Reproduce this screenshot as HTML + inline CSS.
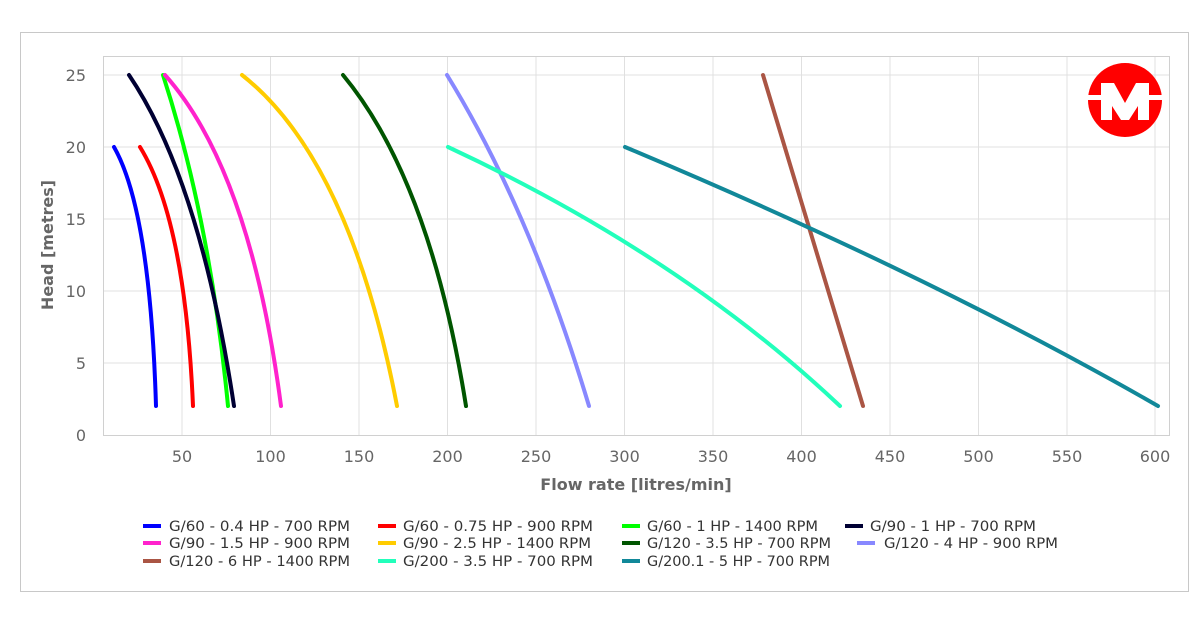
<!DOCTYPE html>
<html><head><style>
body{margin:0;background:#fff;}
svg text{font-family:"DejaVu Sans","Liberation Sans",sans-serif;}
</style></head><body>
<svg width="1197" height="618" xmlns="http://www.w3.org/2000/svg">
<rect x="20.5" y="32.5" width="1168" height="559" fill="#fff" stroke="#c8c8c8"/>
<g stroke="#e0e0e0" stroke-width="1">
<line x1="182" y1="56" x2="182" y2="435"/><line x1="270.5" y1="56" x2="270.5" y2="435"/>
<line x1="359" y1="56" x2="359" y2="435"/><line x1="447.5" y1="56" x2="447.5" y2="435"/>
<line x1="536" y1="56" x2="536" y2="435"/><line x1="624.5" y1="56" x2="624.5" y2="435"/>
<line x1="713" y1="56" x2="713" y2="435"/><line x1="801.5" y1="56" x2="801.5" y2="435"/>
<line x1="890" y1="56" x2="890" y2="435"/><line x1="978.5" y1="56" x2="978.5" y2="435"/>
<line x1="1067" y1="56" x2="1067" y2="435"/><line x1="1155" y1="56" x2="1155" y2="435"/>
<line x1="103" y1="75" x2="1169" y2="75"/><line x1="103" y1="147" x2="1169" y2="147"/>
<line x1="103" y1="219" x2="1169" y2="219"/><line x1="103" y1="291" x2="1169" y2="291"/>
<line x1="103" y1="363" x2="1169" y2="363"/>
</g>
<rect x="103.5" y="56.5" width="1066" height="379" fill="none" stroke="#d0d0d0"/>
<g fill="#666" font-size="16" text-anchor="end">
<text x="86" y="81">25</text><text x="86" y="153">20</text><text x="86" y="225">15</text>
<text x="86" y="297">10</text><text x="86" y="369">5</text><text x="86" y="441">0</text>
</g>
<g fill="#666" font-size="16" text-anchor="middle">
<text x="182" y="462">50</text><text x="270.5" y="462">100</text><text x="359" y="462">150</text>
<text x="447.5" y="462">200</text><text x="536" y="462">250</text><text x="624.5" y="462">300</text>
<text x="713" y="462">350</text><text x="801.5" y="462">400</text><text x="890" y="462">450</text>
<text x="978.5" y="462">500</text><text x="1067" y="462">550</text><text x="1155" y="462">600</text>
</g>
<text x="636" y="490" fill="#666" font-size="16" font-weight="bold" text-anchor="middle">Flow rate [litres/min]</text>
<text transform="translate(53,245) rotate(-90)" fill="#666" font-size="16" font-weight="bold" text-anchor="middle">Head [metres]</text>
<g fill="none" stroke-width="4" stroke-linecap="round">
<path d="M114 147 Q150 210 156 406" stroke="#0000ff"/>
<path d="M140 147 Q185 220 193 406" stroke="#ff0000"/>
<path d="M163 75 Q210 220 228 406" stroke="#00ff00"/>
<path d="M129 75 Q200 180 234 406" stroke="#000033"/>
<path d="M165 75 Q250 170 281 406" stroke="#ff22cc"/>
<path d="M242 75 Q350 160 397 406" stroke="#ffcc00"/>
<path d="M343 75 Q430 180 466 406" stroke="#005500"/>
<path d="M447 75 Q530 210 589 406" stroke="#8888ff"/>
<path d="M763 75 Q810 230 863 406" stroke="#aa5544"/>
<path d="M448 147 Q680 255 840 406" stroke="#22ffbb"/>
<path d="M625 147 Q930 275 1158 406" stroke="#118899"/>
</g>
<circle cx="1125" cy="100" r="37" fill="#ff0000"/>
<polygon points="1088,95 1101,95 1101,83 1114,83 1125,103 1136,83 1149,83 1149,95 1162,95 1162,100 1149,100 1149,120 1138,120 1138,106 1129,120 1121,120 1112,106 1112,120 1101,120 1101,100 1088,100" fill="#fff"/>
<g font-size="14" fill="#333">
<g stroke-width="4">
<line x1="143" y1="526" x2="161" y2="526" stroke="#0000ff"/><line x1="378" y1="526" x2="396" y2="526" stroke="#ff0000"/>
<line x1="622" y1="526" x2="640" y2="526" stroke="#00ff00"/><line x1="845" y1="526" x2="863" y2="526" stroke="#000033"/>
<line x1="143" y1="543" x2="161" y2="543" stroke="#ff22cc"/><line x1="378" y1="543" x2="396" y2="543" stroke="#ffcc00"/>
<line x1="622" y1="543" x2="640" y2="543" stroke="#005500"/><line x1="857" y1="543" x2="875" y2="543" stroke="#8888ff"/>
<line x1="143" y1="561" x2="161" y2="561" stroke="#aa5544"/><line x1="378" y1="561" x2="396" y2="561" stroke="#22ffbb"/>
<line x1="622" y1="561" x2="640" y2="561" stroke="#118899"/>
</g>
<text x="169" y="531" textLength="181" lengthAdjust="spacingAndGlyphs">G/60 - 0.4 HP - 700 RPM</text><text x="403" y="531" textLength="190" lengthAdjust="spacingAndGlyphs">G/60 - 0.75 HP - 900 RPM</text>
<text x="647" y="531" textLength="171" lengthAdjust="spacingAndGlyphs">G/60 - 1 HP - 1400 RPM</text><text x="870" y="531" textLength="166" lengthAdjust="spacingAndGlyphs">G/90 - 1 HP - 700 RPM</text>
<text x="169" y="548" textLength="181" lengthAdjust="spacingAndGlyphs">G/90 - 1.5 HP - 900 RPM</text><text x="403" y="548" textLength="188" lengthAdjust="spacingAndGlyphs">G/90 - 2.5 HP - 1400 RPM</text>
<text x="647" y="548" textLength="184" lengthAdjust="spacingAndGlyphs">G/120 - 3.5 HP - 700 RPM</text><text x="884" y="548" textLength="174" lengthAdjust="spacingAndGlyphs">G/120 - 4 HP - 900 RPM</text>
<text x="169" y="566" textLength="181" lengthAdjust="spacingAndGlyphs">G/120 - 6 HP - 1400 RPM</text><text x="403" y="566" textLength="190" lengthAdjust="spacingAndGlyphs">G/200 - 3.5 HP - 700 RPM</text>
<text x="647" y="566" textLength="183" lengthAdjust="spacingAndGlyphs">G/200.1 - 5 HP - 700 RPM</text>
</g>
</svg>
</body></html>
